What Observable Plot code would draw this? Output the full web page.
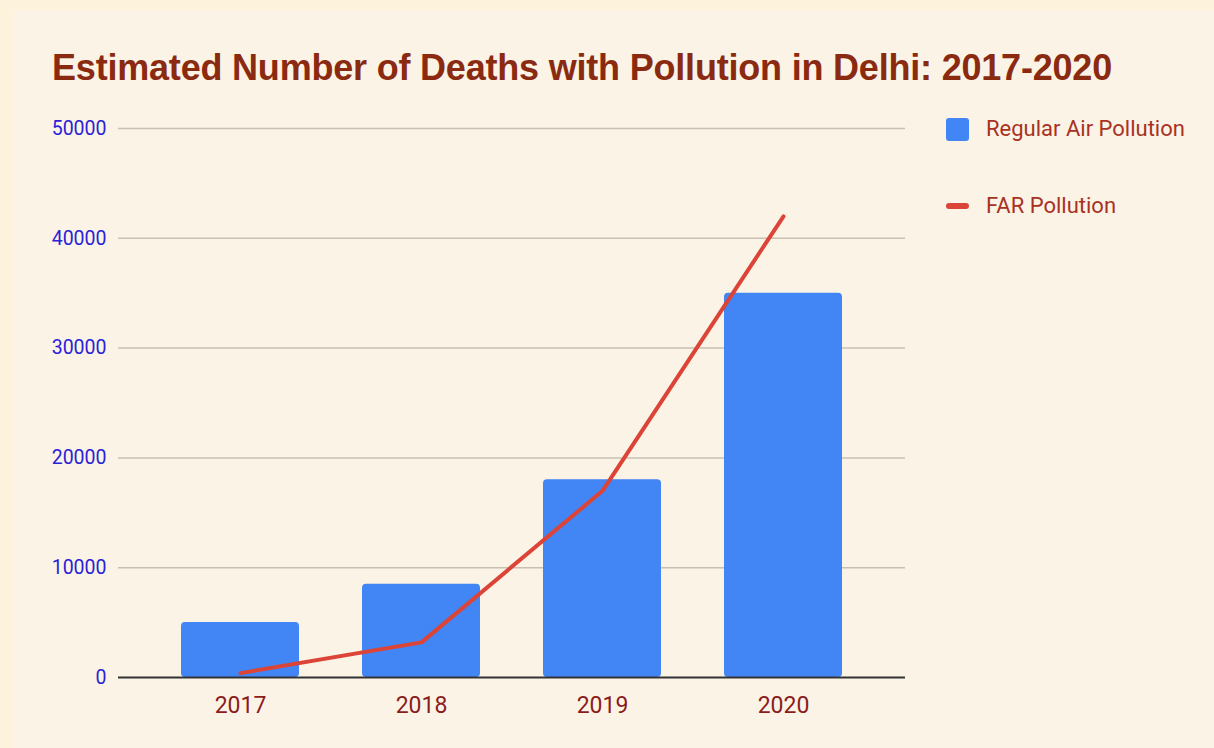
<!DOCTYPE html>
<html>
<head>
<meta charset="utf-8">
<script src="https://cdn.jsdelivr.net/npm/d3@7"></script>
<script src="https://cdn.jsdelivr.net/npm/@observablehq/plot@0.6"></script>
<style>
  html, body { margin: 0; padding: 0; width: 1214px; height: 748px; overflow: hidden; background: #fdf3dc; }
  #panel { position: absolute; left: 14px; top: 10px; width: 1200px; height: 738px; background: #fbf3e6; }
  #title { position: absolute; left: 52px; top: 47px; margin: 0; font-family: "Liberation Sans", Arial, sans-serif; font-weight: bold; font-size: 36px; color: #8a2a10; white-space: nowrap; letter-spacing: -0.2px; }
  #chart { position: absolute; left: 0; top: 100px; }
  .leg { position: absolute; font-family: Roboto, sans-serif; font-size: 22px; color: #a8321f; white-space: nowrap; }
  .sw { position: absolute; }
</style>
</head>
<body>
<div id="panel"></div>
<h1 id="title">Estimated Number of Deaths with Pollution in Delhi: 2017-2020</h1>
<div id="chart"></div>
<div class="sw" style="left:946px; top:118px; width:23px; height:23px; background:#4285f4; border-radius:3px;"></div>
<div class="leg" style="left:986px; top:116px;">Regular Air Pollution</div>
<div class="sw" style="left:946px; top:203px; width:23px; height:6px; background:#db4437; border-radius:3px;"></div>
<div class="leg" style="left:986px; top:193px;">FAR Pollution</div>
<script>
const years = ["2017", "2018", "2019", "2020"];
const regularAir = [5000, 8500, 18000, 35000];
const farPollution = [400, 3200, 17000, 42000];
const yTicks = [0, 10000, 20000, 30000, 40000, 50000];

const rows = years.map((y, i) => ({year: y, regular: regularAir[i], far: farPollution[i]}));

const chart = Plot.plot({
  width: 1214,
  height: 648,
  marginLeft: 118,
  marginRight: 309,
  marginTop: 28,
  marginBottom: 71,
  style: { background: "transparent", fontFamily: "Roboto, sans-serif", overflow: "visible" },
  x: { domain: years, padding: 0.35, paddingOuter: 0.345, label: null },
  y: { domain: [0, 50000], ticks: yTicks, label: null },
  marks: [
    Plot.ruleY(yTicks.filter(d => d > 0), { stroke: "#c9c0b2", strokeWidth: 1.5 }),
    Plot.barY(rows, { x: "year", y: "regular", fill: "#4285f4", rx: 4 }),
    Plot.ruleY([0], { stroke: "#333", strokeWidth: 2 }),
    Plot.lineY(rows, { x: "year", y: "far", stroke: "#db4437", strokeWidth: 4 }),
    Plot.axisY({ ticks: yTicks, tickSize: 0, tickPadding: 12, tickFormat: d => String(d), fontSize: 19.5, fill: "#2a22d8", label: null }),
    Plot.axisX({ tickSize: 0, tickPadding: 19, fontSize: 23, fill: "#8b1c1c", label: null })
  ]
});
document.getElementById("chart").appendChild(chart);
</script>
</body>
</html>
